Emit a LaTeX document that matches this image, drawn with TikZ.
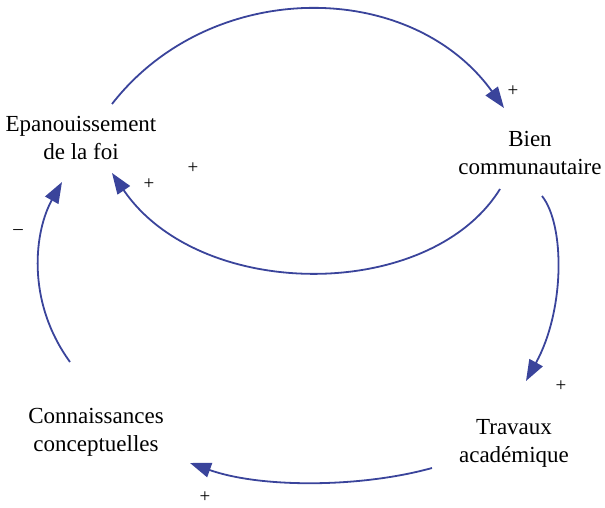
\documentclass[tikz,border=0pt]{standalone}
\usepackage{fontspec}
\setmainfont{Liberation Serif}
\usetikzlibrary{arrows.meta}
\definecolor{loopblue}{RGB}{58,68,155}
\begin{document}
\begin{tikzpicture}[x=1pt,y=-1pt,
  lbl/.style={align=center,font=\fontsize{23}{28}\selectfont,inner sep=0pt},
  sgn/.style={font=\fontsize{19}{19}\selectfont,inner sep=0pt},
  conn/.style={draw=loopblue,line width=1.8pt,-{Triangle[length=21pt,width=15pt]}}]
\useasboundingbox (0,0) rectangle (605,508);
\node[lbl] (foi) at (81,138) {Epanouissement\\de la foi};
\node[lbl] (bien) at (530,153) {Bien\\communautaire};
\node[lbl] (trav) at (514,443) {Travaux\\académique};
\node[lbl] (conn) at (96,432) {Connaissances\\conceptuelles};
\coordinate (a1) at (112,104); \coordinate (b1) at (504,108);
\coordinate (a2) at (500,189); \coordinate (b2) at (112,173);
\coordinate (a3) at (542,196); \coordinate (b3) at (526,381);
\coordinate (a4) at (432,468); \coordinate (b4) at (190,463);
\coordinate (a5) at (70,362);  \coordinate (b5) at (62,182);
\draw[conn] (a1) .. controls (210,-22) and (410,-22) .. (b1);
\draw[conn] (a2) .. controls (430,302) and (200,302) .. (b2);
\draw[conn] (a3) .. controls (565,225) and (565,310) .. (b3);
\draw[conn] (a4) .. controls (360,488) and (260,488) .. (b4);
\draw[conn] (a5) .. controls (25,300) and (35,230) .. (b5);
\node[sgn] (s1) at (513,91) {+};
\node[sgn] (s2) at (193,168) {+};
\node[sgn] (s3) at (149,184) {+};
\node[sgn] (s4) at (561,386) {+};
\node[sgn] (s5) at (205,497) {+};
\node[sgn] (s6) at (18,232) {\textendash};
\end{tikzpicture}
\end{document}
